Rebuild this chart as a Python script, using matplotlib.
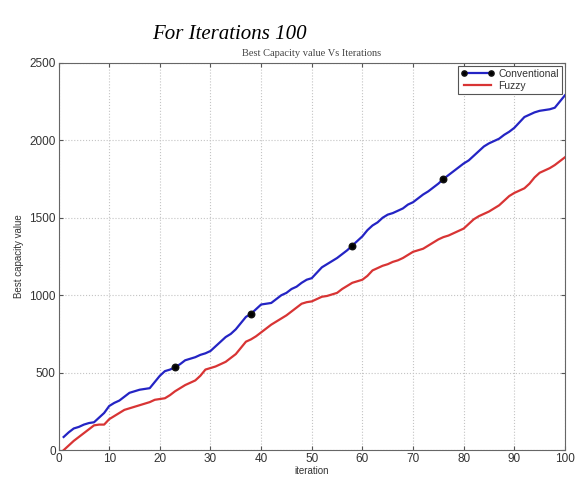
import matplotlib
matplotlib.use("Agg")
import matplotlib.pyplot as plt
import numpy as np

iterations = list(range(1, 101))

conventional = [
    85, 115, 140, 150, 165, 175, 180, 210, 240, 285,
    305, 320, 345, 370, 380, 390, 395, 400, 440, 480,
    510, 520, 535, 555, 580, 590, 600, 615, 625, 640,
    670, 700, 730, 750, 780, 820, 860, 880, 910, 940,
    945, 950, 975, 1000, 1015, 1040, 1055, 1080, 1100, 1110,
    1145, 1180, 1200, 1220, 1240, 1265, 1290, 1320, 1350, 1380,
    1420, 1450, 1470, 1500, 1520, 1530, 1545, 1560, 1585, 1600,
    1625, 1650, 1670, 1695, 1720, 1750, 1775, 1800, 1825, 1850,
    1870, 1900, 1930, 1960, 1980, 1995, 2010, 2035, 2055, 2080,
    2115, 2150, 2165, 2180, 2190, 2195, 2200, 2210, 2250, 2290,
]

fuzzy = [
    0, 30, 60, 85, 110, 135, 160, 165, 165, 200,
    220, 240, 260, 270, 280, 290, 300, 310, 325, 330,
    335, 355, 380, 400, 420, 435, 450, 480, 520, 530,
    540, 555, 570, 595, 620, 660, 700, 715, 735, 760,
    785, 810, 830, 850, 870, 895, 920, 945, 955, 960,
    975, 990, 995, 1005, 1015, 1040, 1060, 1080, 1090, 1100,
    1125, 1160, 1175, 1190, 1200, 1215, 1225, 1240, 1260, 1280,
    1290, 1300, 1320, 1340, 1360, 1375, 1385, 1400, 1415, 1430,
    1460, 1490, 1510, 1525, 1540, 1560, 1580, 1610, 1640, 1660,
    1675, 1690, 1720, 1760, 1790, 1805, 1820, 1840, 1865, 1890,
]

# indices of the conventional run that carry a marker
marker_idx = [22, 37, 57, 75]

x_ticks = [0, 10, 20, 30, 40, 50, 60, 70, 80, 90, 100]
y_ticks = [0, 500, 1000, 1500, 2000, 2500]

fig = plt.figure(figsize=(5.8, 4.83), dpi=100)
ax = fig.add_axes([0.101, 0.068, 0.873, 0.802])

ax.plot(iterations, conventional, color="#2424c4", lw=1.6,
        marker="o", markersize=4.5, markerfacecolor="black",
        markeredgecolor="#111111", markeredgewidth=1.2,
        markevery=marker_idx, label="Conventional", zorder=3)
ax.plot(iterations, fuzzy, color="#d83434", lw=1.6, label="Fuzzy", zorder=3)

ax.set_xlim(0, 100)
ax.set_ylim(0, 2500)
ax.set_xticks(x_ticks)
ax.set_yticks(y_ticks)

sans = "Liberation Sans"
for lbl in ax.get_xticklabels() + ax.get_yticklabels():
    lbl.set_fontfamily(sans)
    lbl.set_fontsize(8.5)
    lbl.set_color("#333333")

ax.tick_params(direction="in", top=True, right=True, length=3,
               color="#555555", pad=2)
for sp in ax.spines.values():
    sp.set_color("#666666")
    sp.set_linewidth(0.8)

ax.grid(True, linestyle=":", color="#c4c4c4", linewidth=0.8)
ax.set_axisbelow(True)

ax.set_xlabel("iteration", fontfamily=sans, fontsize=7, color="#333333",
              labelpad=1)
ax.set_ylabel("Best capacity value", fontfamily=sans, fontsize=7,
              color="#333333", labelpad=4)
ax.set_title("Best Capacity value Vs Iterations", fontfamily="Liberation Serif",
             fontsize=7.5, color="#444444", pad=5)

leg = ax.legend(loc="upper right", prop={"family": sans, "size": 7.5},
                fancybox=False, framealpha=1, edgecolor="#555555",
                borderpad=0.3, labelspacing=0.2, handlelength=3.2,
                handletextpad=0.4, borderaxespad=0.3, numpoints=2,
                markerscale=0.8)
leg.get_frame().set_linewidth(0.8)
for t in leg.get_texts():
    t.set_color("#333333")

fig.text(0.395, 0.928, "For Iterations 100", fontfamily="Liberation Serif",
         fontstyle="italic", fontsize=15, ha="center", va="center",
         color="black")

fig.savefig("out.png", dpi=100)
